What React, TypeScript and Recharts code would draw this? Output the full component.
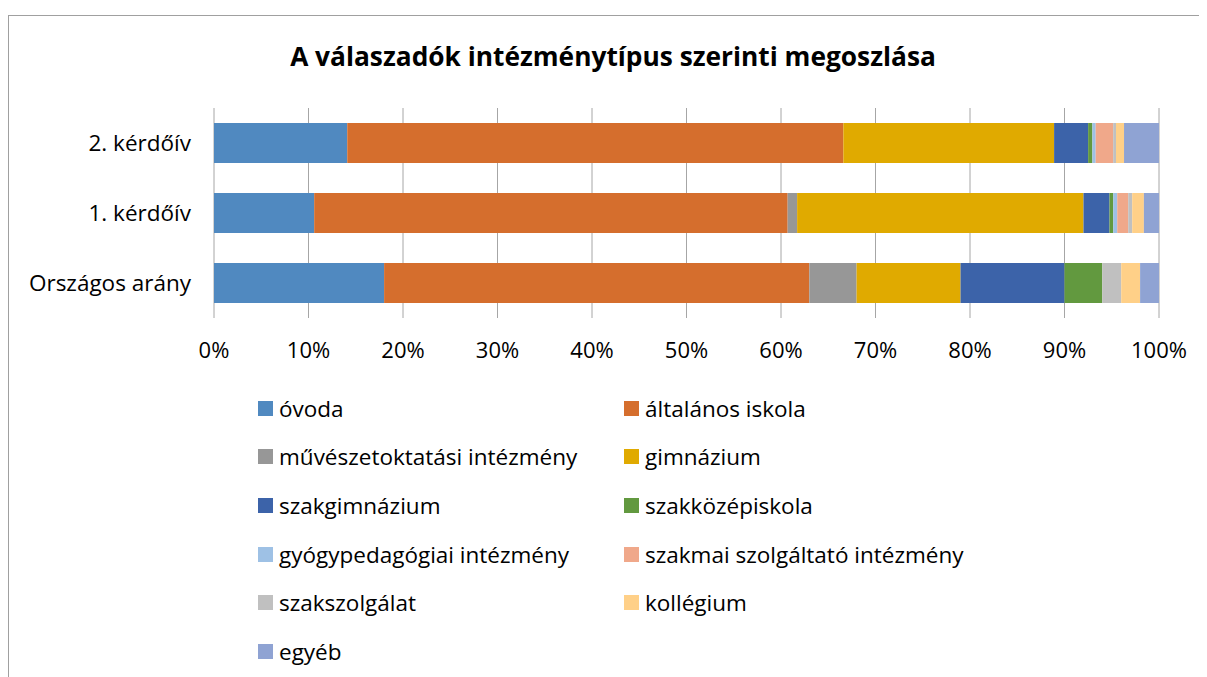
import React from "react";
import {
  BarChart,
  Bar,
  XAxis,
  YAxis,
  CartesianGrid,
  Legend,
} from "recharts";

const categories = ["2. kérdőív", "1. kérdőív", "Országos arány"];

const seriesNames = [
  "óvoda",
  "általános iskola",
  "művészetoktatási intézmény",
  "gimnázium",
  "szakgimnázium",
  "szakközépiskola",
  "gyógypedagógiai intézmény",
  "szakmai szolgáltató intézmény",
  "szakszolgálat",
  "kollégium",
  "egyéb",
];

// shares in % per row, same order as seriesNames
const kerdoiv2 = [14.1, 52.5, 0, 22.3, 3.6, 0.45, 0.35, 1.85, 0.3, 0.85, 3.7];
const kerdoiv1 = [10.6, 50.1, 1.0, 30.3, 2.75, 0.4, 0.42, 1.16, 0.42, 1.24, 1.6];
const orszagos = [18, 45, 5, 11, 11, 4, 0, 0, 2, 2, 2];

const xTicks = [0, 0.1, 0.2, 0.3, 0.4, 0.5, 0.6, 0.7, 0.8, 0.9, 1];

const colors = [
  "#5089c0",
  "#d56e2d",
  "#979797",
  "#e0aa00",
  "#3c63a9",
  "#62993f",
  "#9ec1e5",
  "#f0a88a",
  "#c0c0c0",
  "#ffd088",
  "#8fa3d3",
];

const rows = [kerdoiv2, kerdoiv1, orszagos];
const data = categories.map((name, i) => {
  const row: Record<string, string | number> = { name };
  seriesNames.forEach((s, j) => {
    row[s] = rows[i][j];
  });
  return row;
});

const font = "'Open Sans', sans-serif";

function LegendGrid(props: any) {
  const items = [...(props.payload || [])].sort(
    (a: any, b: any) => seriesNames.indexOf(a.value) - seriesNames.indexOf(b.value)
  );
  return (
    <div
      style={{
        display: "grid",
        gridTemplateColumns: "366px 420px",
        gridAutoRows: "48.6px",
        fontFamily: font,
        fontSize: 22.5,
        color: "#000",
      }}
    >
      {items.map((it: any) => (
        <div
          key={it.value}
          style={{ display: "flex", alignItems: "center", whiteSpace: "nowrap" }}
        >
          <span
            style={{
              display: "inline-block",
              width: 15,
              height: 15,
              background: it.color,
              marginRight: 6,
            }}
          />
          <span>{it.value}</span>
        </div>
      ))}
    </div>
  );
}

export default function App() {
  return (
    <div
      style={{
        position: "relative",
        marginTop: 7,
        width: 1198,
        height: 661,
        borderTop: "1px solid #a0a0a0",
        borderLeft: "1px solid #a0a0a0",
        background: "#fff",
        overflow: "hidden",
      }}
    >
      <div
        style={{
          position: "absolute",
          top: 22,
          left: 0,
          width: 1208,
          textAlign: "center",
          fontFamily: font,
          fontWeight: 700,
          fontSize: 26.3,
          color: "#000",
          zIndex: 2,
        }}
      >
        A válaszadók intézménytípus szerinti megoszlása
      </div>
      <BarChart
        width={1198}
        height={660}
        data={data}
        layout="vertical"
        stackOffset="expand"
        barSize={40}
        margin={{ top: 92, right: 48, bottom: 28, left: 0 }}
      >
        <CartesianGrid horizontal={false} stroke="#a6a6a6" />
        <XAxis
          type="number"
          domain={[0, 1]}
          ticks={xTicks}
          tickFormatter={(v: number) => `${Math.round(v * 100)}%`}
          axisLine={false}
          tickLine={false}
          tickSize={0}
          tickMargin={24}
          height={40}
          interval={0}
          tick={{ fill: "#000", fontSize: 22, fontFamily: font }}
        />
        <YAxis
          type="category"
          dataKey="name"
          width={205}
          axisLine={false}
          tickLine={false}
          tickSize={0}
          tickMargin={23}
          tick={{ fill: "#000", fontSize: 22.5, fontFamily: font }}
        />
        <Legend
          verticalAlign="bottom"
          content={<LegendGrid />}
          wrapperStyle={{ top: 368, left: 249, width: 820, height: 290 }}
        />
        {seriesNames.map((s, i) => (
          <Bar
            key={s}
            dataKey={s}
            stackId="a"
            fill={colors[i]}
            isAnimationActive={false}
          />
        ))}
      </BarChart>
    </div>
  );
}
